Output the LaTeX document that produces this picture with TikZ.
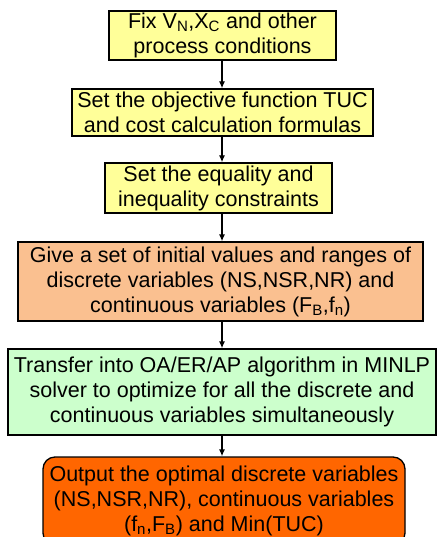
\documentclass[tikz,border=0pt]{standalone}
\usepackage{fontspec}
\setmainfont{Liberation Sans}
\usetikzlibrary{arrows.meta}
\definecolor{jaune}{HTML}{FFFF99}
\definecolor{peche}{HTML}{FAC090}
\definecolor{vert}{HTML}{CCFFCC}
\definecolor{orange}{HTML}{FF6600}
\begin{document}
\begin{tikzpicture}[x=1pt,y=-1pt]
\tikzset{boite/.style={draw, line width=1.3pt, align=center, inner sep=0pt,
  font=\fontsize{21.5}{25}\selectfont},
  fleche/.style={line width=1.3pt, -{Latex[length=7pt,width=6pt]}}}
\useasboundingbox (0,0) rectangle (440,537);
\clip (0,0) rectangle (440,537);
\fill[white] (0,0) rectangle (440,537);
\node[boite, fill=jaune, minimum width=227pt, minimum height=49pt] (B1) at (222.5,35.5)
  {Fix V\textsubscript{N},X\textsubscript{C} and other\\process conditions};
\node[boite, fill=jaune, minimum width=301pt, minimum height=47pt] (B2) at (222.5,112.5)
  {Set the objective function TUC\\and cost calculation formulas};
\node[boite, fill=jaune, minimum width=227pt, minimum height=50pt] (B3) at (218.5,188)
  {Set the equality and\\inequality constraints};
\node[boite, fill=peche, minimum width=405pt, minimum height=79pt] (B4) at (220.5,281.5)
  {Give a set of initial values and ranges of\\discrete variables (NS,NSR,NR) and\\continuous variables (F\textsubscript{B},f\textsubscript{n})};
\node[boite, fill=vert, minimum width=428pt, minimum height=86pt] (B5) at (222,392)
  {Transfer into OA/ER/AP algorithm in MINLP\\solver to optimize for all the discrete and\\continuous variables simultaneously};
\node[boite, fill=orange, rounded corners=12pt, minimum width=362pt, minimum height=88pt] (B6) at (224,501)
  {Output the optimal discrete variables\\(NS,NSR,NR), continuous variables\\(f\textsubscript{n},F\textsubscript{B}) and Min(TUC)};
\draw[fleche] (222,60) coordinate (A1) -- (A1 |- B2.north);
\draw[fleche] (B2.south -| A1) -- (A1 |- B3.north);
\draw[fleche] (B3.south -| A1) -- (A1 |- B4.north);
\draw[fleche] (B4.south -| A1) -- (A1 |- B5.north);
\draw[fleche] (B5.south -| A1) -- (A1 |- B6.north);
\end{tikzpicture}
\end{document}
